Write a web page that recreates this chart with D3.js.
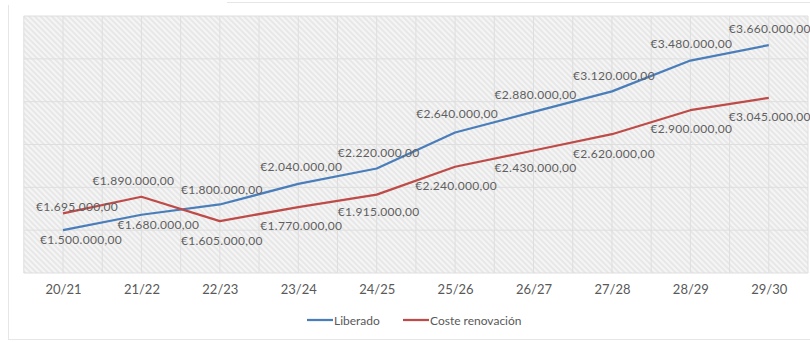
<!DOCTYPE html>
<html>
<head>
<meta charset="utf-8">
<script src="https://cdn.jsdelivr.net/npm/d3@7"></script>
<style>
  html, body { margin: 0; padding: 0; background: #ffffff; }
  svg { display: block; }
  text { font-family: Lato, "Noto Sans", sans-serif; }
</style>
</head>
<body>
<svg id="chart" width="810" height="342"></svg>
<script>
// Seasons on the category axis
const seasons = ["20/21", "21/22", "22/23", "23/24", "24/25", "25/26", "26/27", "27/28", "28/29", "29/30"];

// Series values (euros)
const liberado = [1500000, 1680000, 1800000, 2040000, 2220000, 2640000, 2880000, 3120000, 3480000, 3660000];
const costeRenovacion = [1695000, 1890000, 1605000, 1770000, 1915000, 2240000, 2430000, 2620000, 2900000, 3045000];

// Value-axis gridline values
const yTicks = [1000000, 1500000, 2000000, 2500000, 3000000, 3500000, 4000000];

// Series names for the legend
const seriesNames = ["Liberado", "Coste renovación"];

// Data label placement relative to each point [dx, dy]
const liberadoLabelNudge = [[18, 9], [17, 10], [2, -15], [3, -17], [2, -16], [2, -19], [2, -17], [2, -16], [1, -17], [1, -17]];
const costeLabelNudge = [[14, -7], [-8, -16], [2, 19], [3, 18], [2, 17], [1, 19], [2, 17], [2, 19], [1, 18], [1, 19]];

const colors = { liberado: "#4a7ebb", coste: "#be4b48" };

const svg = d3.select("#chart");
const plot = { left: 23.8, right: 808, top: 16, bottom: 273 };

const x = d3.scalePoint().domain(seasons).range([plot.left, plot.right]).padding(0.5);
const y = d3.scaleLinear().domain([1000000, 4000000]).range([plot.bottom, plot.top]);

const euro = d3.formatLocale({ decimal: ",", thousands: ".", grouping: [3], currency: ["€", ""] }).format("$,.2f");

// Outer frame lines
svg.append("line").attr("x1", 227).attr("x2", 810).attr("y1", 2.5).attr("y2", 2.5)
  .attr("stroke", "#e6e6e6").attr("stroke-width", 1);
svg.append("line").attr("x1", 8.5).attr("x2", 8.5).attr("y1", 5).attr("y2", 340)
  .attr("stroke", "#e6e6e6").attr("stroke-width", 1);
svg.append("line").attr("x1", 8).attr("x2", 810).attr("y1", 339.5).attr("y2", 339.5)
  .attr("stroke", "#e6e6e6").attr("stroke-width", 1);

// Hatched plot-area fill
const defs = svg.append("defs");
const pat = defs.append("pattern").attr("id", "hatch").attr("patternUnits", "userSpaceOnUse")
  .attr("width", 4).attr("height", 4).attr("patternTransform", "rotate(-45)");
pat.append("rect").attr("width", 4).attr("height", 4).attr("fill", "#f5f5f5");
pat.append("line").attr("x1", 1).attr("x2", 1).attr("y1", 0).attr("y2", 4)
  .attr("stroke", "#e0e0e0").attr("stroke-width", 1.3);

svg.append("rect")
  .attr("x", plot.left).attr("y", plot.top)
  .attr("width", plot.right - plot.left).attr("height", plot.bottom - plot.top)
  .attr("fill", "url(#hatch)");

// Gridlines
const step = x.step();
const vLines = [];
seasons.forEach(s => { vLines.push(x(s) - step / 2); vLines.push(x(s)); });
vLines.push(plot.right);
svg.append("g").selectAll("line").data(vLines).join("line")
  .attr("x1", d => d).attr("x2", d => d).attr("y1", plot.top).attr("y2", plot.bottom)
  .attr("stroke", "#dedede").attr("stroke-width", 1);
svg.append("g").selectAll("line").data(yTicks).join("line")
  .attr("x1", plot.left).attr("x2", plot.right).attr("y1", d => y(d)).attr("y2", d => y(d))
  .attr("stroke", "#dedede").attr("stroke-width", 1);

// Category axis
const xAxis = svg.append("g").attr("transform", `translate(0,${plot.bottom})`)
  .call(d3.axisBottom(x).tickSize(0).tickPadding(12));
xAxis.select(".domain").remove();
xAxis.selectAll("text").attr("font-size", 13).attr("fill", "#595959")
  .attr("font-family", "Lato, sans-serif");

// Lines
const line = d3.line().x((d, i) => x(seasons[i])).y(d => y(d));
svg.append("path").datum(liberado).attr("d", line)
  .attr("fill", "none").attr("stroke", colors.liberado).attr("stroke-width", 2.25)
  .attr("stroke-linejoin", "round");
svg.append("path").datum(costeRenovacion).attr("d", line)
  .attr("fill", "none").attr("stroke", colors.coste).attr("stroke-width", 2.25)
  .attr("stroke-linejoin", "round");

// Data labels
function labels(values, nudge) {
  svg.append("g").selectAll("text").data(values).join("text")
    .attr("x", (d, i) => x(seasons[i]) + nudge[i][0])
    .attr("y", (d, i) => y(d) + nudge[i][1])
    .attr("text-anchor", "middle").attr("dominant-baseline", "central")
    .attr("font-size", 12).attr("letter-spacing", 0.3).attr("fill", "#5f5f5f")
    .text(d => euro(d));
}
labels(liberado, liberadoLabelNudge);
labels(costeRenovacion, costeLabelNudge);

// Legend
const legend = svg.append("g").attr("transform", "translate(0,320)");
const legendItems = [
  { name: seriesNames[0], color: colors.liberado, x: 307 },
  { name: seriesNames[1], color: colors.coste, x: 403 }
];
legendItems.forEach(it => {
  legend.append("line").attr("x1", it.x).attr("x2", it.x + 26).attr("y1", 0).attr("y2", 0)
    .attr("stroke", it.color).attr("stroke-width", 2.25);
  legend.append("text").attr("x", it.x + 27).attr("y", 0).attr("dominant-baseline", "central")
    .attr("font-size", 12).attr("fill", "#595959").text(it.name);
});
</script>
</body>
</html>
